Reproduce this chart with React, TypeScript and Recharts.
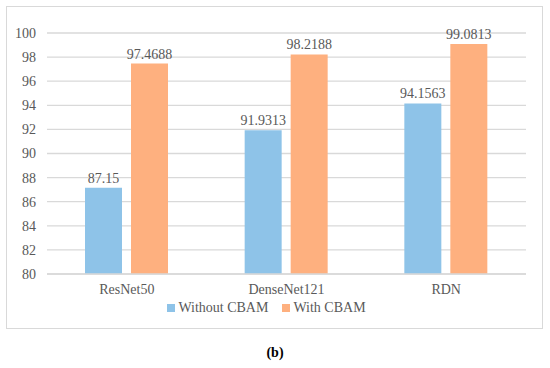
import React from 'react';
import { BarChart, Bar, XAxis, YAxis, CartesianGrid, Legend, LabelList } from 'recharts';

const categories = ['ResNet50', 'DenseNet121', 'RDN'];
const withoutCBAM = [87.15, 91.9313, 94.1563];
const withCBAM = [97.4688, 98.2188, 99.0813];
const yTicks = [80, 82, 84, 86, 88, 90, 92, 94, 96, 98, 100];
const seriesNames = ['Without CBAM', 'With CBAM'];

const data = categories.map((c, i) => ({ name: c, without: withoutCBAM[i], with: withCBAM[i] }));

const BLUE = '#8EC3E8';
const ORANGE = '#FEB07F';
const TEXT = '#595959';
const FONT = 'Liberation Serif, serif';

const LegendContent = () => (
  <div style={{ display: 'flex', justifyContent: 'center', fontFamily: FONT, fontSize: 14, color: TEXT, lineHeight: '20px' }}>
    {[BLUE, ORANGE].map((col, i) => (
      <span key={i} style={{ display: 'inline-flex', alignItems: 'center', marginRight: i === 0 ? 14 : 0 }}>
        <span style={{ display: 'inline-block', width: 8, height: 8, background: col, marginRight: 3 }} />
        {seriesNames[i]}
      </span>
    ))}
  </div>
);

export default function App() {
  return (
    <div style={{ position: 'absolute', left: 0, top: 0, width: 550, height: 368, background: '#fff', fontFamily: FONT }}>
      <div style={{ position: 'absolute', left: 6, top: 6, width: 535, height: 321, border: '1px solid #D9D9D9' }} />
      <div style={{ position: 'absolute', left: 0, top: 0 }}>
        <BarChart width={550} height={368} data={data} margin={{ top: 33, right: 24, left: 7, bottom: 50 }} barSize={37} barGap={9}>
          <CartesianGrid vertical={false} stroke="#D9D9D9" strokeWidth={1.3} />
          <XAxis dataKey="name" axisLine={{ stroke: '#D9D9D9', strokeWidth: 1.3 }} tickLine={false} height={24}
            tick={{ fill: TEXT, fontSize: 14, fontFamily: FONT }} tickMargin={4} />
          <YAxis domain={[80, 100]} ticks={yTicks} axisLine={false} tickLine={false} width={40}
            tick={{ fill: TEXT, fontSize: 14, fontFamily: FONT }} tickMargin={5} />
          <Legend verticalAlign="bottom" content={<LegendContent />} />
          <Bar dataKey="without" fill={BLUE} isAnimationActive={false}>
            <LabelList dataKey="without" position="top" offset={5} fill={TEXT} fontSize={14} fontFamily={FONT} />
          </Bar>
          <Bar dataKey="with" fill={ORANGE} isAnimationActive={false}>
            <LabelList dataKey="with" position="top" offset={5} fill={TEXT} fontSize={14} fontFamily={FONT} />
          </Bar>
        </BarChart>
      </div>
      <div style={{ position: 'absolute', left: 0, width: 550, top: 345, textAlign: 'center', fontFamily: FONT, fontWeight: 'bold', fontSize: 14, color: '#000' }}>
        (b)
      </div>
    </div>
  );
}
